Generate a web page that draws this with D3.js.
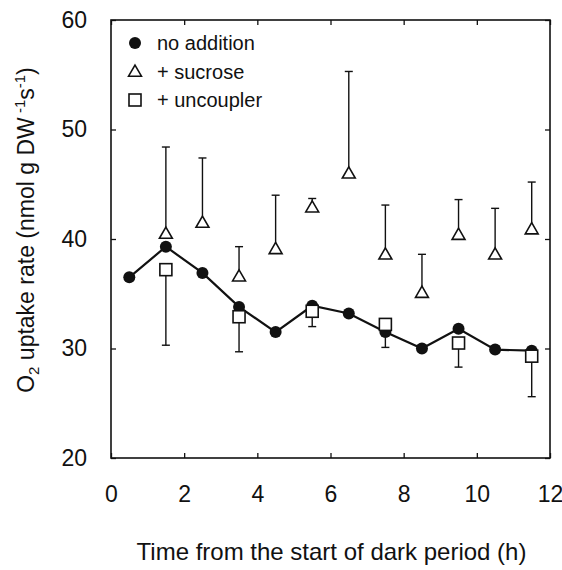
<!DOCTYPE html>
<html>
<head>
<meta charset="utf-8">
<script src="https://cdn.jsdelivr.net/npm/d3@7"></script>
<style>
  body { margin: 0; background: #fff; }
  text { font-family: "Liberation Sans", Arial, sans-serif; fill: #111; }
</style>
</head>
<body>
<svg id="chart" width="562" height="570"></svg>
<script>
// hours after start of dark period
const hours = [0.5, 1.5, 2.5, 3.5, 4.5, 5.5, 6.5, 7.5, 8.5, 9.5, 10.5, 11.5];
const noAddition = [36.5, 39.3, 36.9, 33.8, 31.5, 33.9, 33.2, 31.5, 30.0, 31.8, 29.9, 29.8];

const sucroseHours = [1.5, 2.5, 3.5, 4.5, 5.5, 6.5, 7.5, 8.5, 9.5, 10.5, 11.5];
const sucrose = [40.5, 41.5, 36.6, 39.1, 42.9, 46.0, 38.6, 35.1, 40.4, 38.6, 40.9];
const sucroseUpper = [48.4, 47.4, 39.3, 44.0, 43.7, 55.3, 43.1, 38.6, 43.6, 42.8, 45.2];

const uncouplerHours = [1.5, 3.5, 5.5, 7.5, 9.5, 11.5];
const uncoupler = [37.2, 32.9, 33.4, 32.2, 30.5, 29.3];
const uncouplerLower = [30.3, 29.7, 32.0, 30.1, 28.3, 25.6];

const xTicks = [0, 2, 4, 6, 8, 10, 12];
const yTicks = [20, 30, 40, 50, 60];
const legendLabels = ["no addition", "+ sucrose", "+ uncoupler"];

const margin = {top: 20, left: 111, right: 12, bottom: 112};
const width = 562 - margin.left - margin.right;
const height = 570 - margin.top - margin.bottom;

const svg = d3.select("#chart");
const g = svg.append("g").attr("transform", `translate(${margin.left},${margin.top})`);

const x = d3.scaleLinear().domain([0, 12]).range([0, width]);
const y = d3.scaleLinear().domain([20, 60]).range([height, 0]);

// axes with inward ticks
const axisStyle = sel => {
  sel.select(".domain").remove();
  sel.selectAll(".tick line").attr("stroke", "#111").attr("stroke-width", 1.3);
};
g.append("g").attr("transform", `translate(0,${height})`)
  .call(d3.axisBottom(x).tickValues(xTicks).tickSizeInner(-5).tickSizeOuter(0).tickPadding(28))
  .call(axisStyle)
  .selectAll("text").style("font-size", "23px").attr("fill", "#111");
g.append("g")
  .call(d3.axisLeft(y).tickValues(yTicks).tickSizeInner(-5).tickSizeOuter(0).tickPadding(24))
  .call(axisStyle)
  .selectAll("text").style("font-size", "23px").attr("fill", "#111");
g.append("g")
  .call(d3.axisTop(x).tickValues(xTicks).tickSizeInner(-5).tickSizeOuter(0).tickFormat(""))
  .call(axisStyle);
g.append("g").attr("transform", `translate(${width},0)`)
  .call(d3.axisRight(y).tickValues(yTicks).tickSizeInner(-5).tickSizeOuter(0).tickFormat(""))
  .call(axisStyle);

g.append("rect")
  .attr("width", width).attr("height", height)
  .attr("fill", "none").attr("stroke", "#111").attr("stroke-width", 1.6);

// axis titles
svg.append("text")
  .attr("x", margin.left + width / 2 + 1).attr("y", 560)
  .attr("text-anchor", "middle").style("font-size", "24px")
  .text("Time from the start of dark period (h)");

const yl = svg.append("text")
  .attr("transform", "translate(34,230) rotate(-90)")
  .attr("text-anchor", "middle").style("font-size", "23px");
yl.append("tspan").text("O");
yl.append("tspan").attr("dy", 5).style("font-size", "15px").text("2");
yl.append("tspan").attr("dy", -5).text(" uptake rate (nmol g DW");
yl.append("tspan").attr("dy", -9).style("font-size", "15px").text(" -1");
yl.append("tspan").attr("dy", 9).text("s");
yl.append("tspan").attr("dy", -9).style("font-size", "15px").text("-1");
yl.append("tspan").attr("dy", 9).text(")");

const cap = 4;
const ink = "#111";

// sucrose error bars (upper)
const sucBars = g.append("g");
sucroseHours.forEach((h, i) => {
  sucBars.append("line")
    .attr("x1", x(h)).attr("x2", x(h))
    .attr("y1", y(sucrose[i]) - 6).attr("y2", y(sucroseUpper[i]))
    .attr("stroke", ink).attr("stroke-width", 1.4);
  sucBars.append("line")
    .attr("x1", x(h) - cap).attr("x2", x(h) + cap)
    .attr("y1", y(sucroseUpper[i])).attr("y2", y(sucroseUpper[i]))
    .attr("stroke", ink).attr("stroke-width", 1.4);
});

// uncoupler error bars (lower)
const uncBars = g.append("g");
uncouplerHours.forEach((h, i) => {
  uncBars.append("line")
    .attr("x1", x(h)).attr("x2", x(h))
    .attr("y1", y(uncoupler[i])).attr("y2", y(uncouplerLower[i]))
    .attr("stroke", ink).attr("stroke-width", 1.4);
  uncBars.append("line")
    .attr("x1", x(h) - cap).attr("x2", x(h) + cap)
    .attr("y1", y(uncouplerLower[i])).attr("y2", y(uncouplerLower[i]))
    .attr("stroke", ink).attr("stroke-width", 1.4);
});

// no addition line + dots
const line = d3.line().x((d, i) => x(hours[i])).y(d => y(d));
g.append("path").datum(noAddition)
  .attr("d", line).attr("fill", "none").attr("stroke", ink).attr("stroke-width", 2.2);

const triPath = d3.symbol().type(d3.symbolTriangle).size(72);
const sqSize = 12;

g.selectAll(".dot").data(noAddition).enter().append("circle")
  .attr("cx", (d, i) => x(hours[i])).attr("cy", d => y(d))
  .attr("r", 6).attr("fill", ink);

g.selectAll(".tri").data(sucrose).enter().append("path")
  .attr("d", triPath)
  .attr("transform", (d, i) => `translate(${x(sucroseHours[i])},${y(d) + 1})`)
  .attr("fill", "#fff").attr("stroke", ink).attr("stroke-width", 1.6);

g.selectAll(".sq").data(uncoupler).enter().append("rect")
  .attr("x", (d, i) => x(uncouplerHours[i]) - sqSize / 2)
  .attr("y", d => y(d) - sqSize / 2)
  .attr("width", sqSize).attr("height", sqSize)
  .attr("fill", "#fff").attr("stroke", ink).attr("stroke-width", 1.6);

// legend
const legend = svg.append("g").attr("transform", "translate(135,43)");
legendLabels.forEach((lab, i) => {
  const row = legend.append("g").attr("transform", `translate(0,${i * 28.5})`);
  if (i === 0) row.append("circle").attr("r", 6).attr("fill", ink);
  if (i === 1) row.append("path").attr("d", triPath).attr("transform", "translate(0,1)")
    .attr("fill", "#fff").attr("stroke", ink).attr("stroke-width", 1.6);
  if (i === 2) row.append("rect").attr("x", -6).attr("y", -6).attr("width", 12).attr("height", 12)
    .attr("fill", "#fff").attr("stroke", ink).attr("stroke-width", 1.6);
  row.append("text").attr("x", 22).attr("y", 7).style("font-size", "20px").text(lab);
});
</script>
</body>
</html>
